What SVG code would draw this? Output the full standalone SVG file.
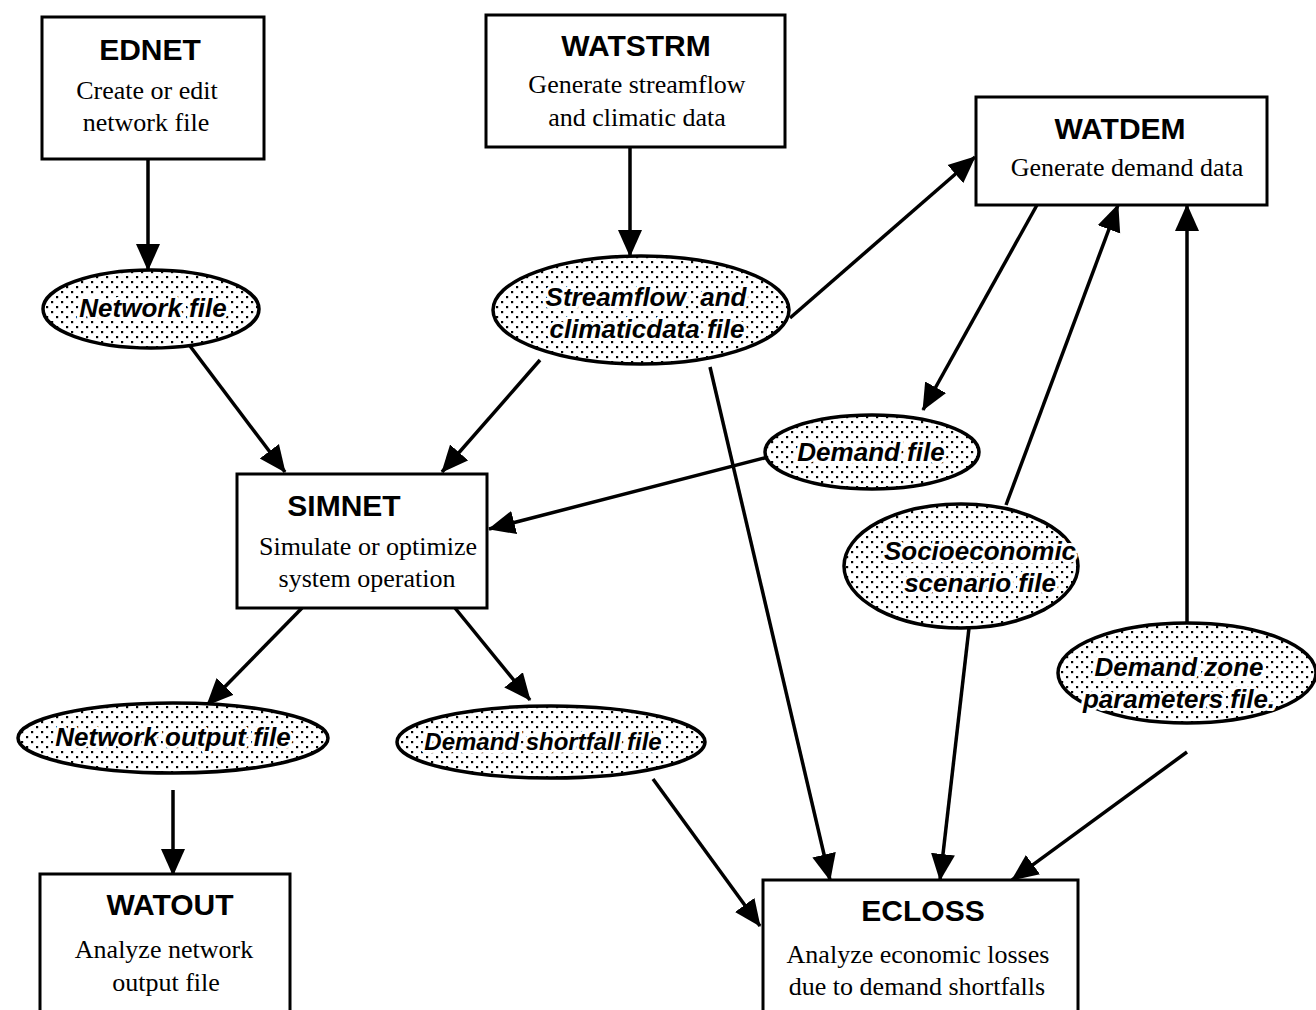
<svg xmlns="http://www.w3.org/2000/svg" width="1316" height="1010" viewBox="0 0 1316 1010">
<style>
.box{fill:#fff;stroke:#000;stroke-width:3}
.ell{fill:url(#dots);stroke:#000;stroke-width:3.5}
.ttl{font-family:"Liberation Sans",Arial,sans-serif;font-weight:bold;font-size:30px;text-anchor:middle;fill:#000}
.txt{font-family:"Liberation Serif","Times New Roman",serif;font-size:26px;text-anchor:middle;fill:#000}
.lbl{font-family:"Liberation Sans",Arial,sans-serif;font-weight:bold;font-style:italic;font-size:26px;text-anchor:middle;fill:#000;stroke:#fff;stroke-width:6;stroke-linejoin:round;paint-order:stroke fill}
.con{stroke:#000;stroke-width:3.5;fill:none;marker-end:url(#ah)}
</style>
<defs>
<pattern id="dots" width="10" height="10" patternUnits="userSpaceOnUse">
<rect width="10" height="10" fill="#fff"/>
<rect x="1" y="1" width="2.2" height="2.2" fill="#000"/>
<rect x="6" y="6" width="2.2" height="2.2" fill="#000"/>
</pattern>
<marker id="ah" markerUnits="userSpaceOnUse" markerWidth="28" markerHeight="26" refX="26" refY="13" orient="auto">
<path d="M0,1 L27,13 L0,25 Z" fill="#000"/>
</marker>
</defs>
<rect width="1316" height="1010" fill="#fff"/>

<g id="connectors">
<line class="con" x1="148" y1="159" x2="148" y2="270"/>
<line class="con" x1="630" y1="147" x2="630" y2="256"/>
<line class="con" x1="190" y1="346" x2="285" y2="472"/>
<line class="con" x1="540" y1="360" x2="442" y2="472"/>
<line class="con" x1="790" y1="318" x2="975" y2="157"/>
<line class="con" x1="710" y1="367" x2="830" y2="880"/>
<line class="con" x1="1037" y1="205" x2="923" y2="410"/>
<line class="con" x1="772" y1="456" x2="489" y2="529"/>
<line class="con" x1="1006" y1="505" x2="1118" y2="205"/>
<line class="con" x1="1187" y1="622" x2="1187" y2="205"/>
<line class="con" x1="969" y1="628" x2="940" y2="880"/>
<line class="con" x1="1187" y1="752" x2="1012" y2="880"/>
<line class="con" x1="302" y1="608" x2="207" y2="705"/>
<line class="con" x1="455" y1="608" x2="530" y2="700"/>
<line class="con" x1="173" y1="790" x2="173" y2="875"/>
<line class="con" x1="653" y1="779" x2="760" y2="926"/>
</g>

<g id="EDNET">
<rect class="box" x="42" y="17" width="222" height="142"/>
<text class="ttl" x="150" y="60">EDNET</text>
<text class="txt" x="147" y="99">Create or edit</text>
<text class="txt" x="146" y="131">network file</text>
</g>

<g id="WATSTRM">
<rect class="box" x="486" y="15" width="299" height="132"/>
<text class="ttl" x="636" y="56">WATSTRM</text>
<text class="txt" x="637" y="93">Generate streamflow</text>
<text class="txt" x="637" y="126">and climatic data</text>
</g>

<g id="WATDEM">
<rect class="box" x="976" y="97" width="291" height="108"/>
<text class="ttl" x="1120" y="139">WATDEM</text>
<text class="txt" x="1127" y="176">Generate demand data</text>
</g>

<g id="SIMNET">
<rect class="box" x="237" y="474" width="250" height="134"/>
<text class="ttl" x="344" y="516">SIMNET</text>
<text class="txt" x="368" y="555">Simulate or optimize</text>
<text class="txt" x="367" y="587">system operation</text>
</g>

<g id="WATOUT">
<rect class="box" x="40" y="874" width="250" height="140"/>
<text class="ttl" x="170" y="915">WATOUT</text>
<text class="txt" x="164" y="958">Analyze network</text>
<text class="txt" x="166" y="991">output file</text>
</g>

<g id="ECLOSS">
<rect class="box" x="763" y="880" width="315" height="134"/>
<text class="ttl" x="923" y="921">ECLOSS</text>
<text class="txt" x="918" y="963">Analyze economic losses</text>
<text class="txt" x="917" y="995">due to demand shortfalls</text>
</g>

<g id="network_file">
<ellipse class="ell" cx="151" cy="309" rx="108" ry="39"/>
<text class="lbl" x="153" y="317">Network file</text>
</g>

<g id="streamflow_file">
<ellipse class="ell" cx="641" cy="310" rx="148" ry="54"/>
<text class="lbl" x="646" y="306">Streamflow&#160; and</text>
<text class="lbl" x="647" y="338">climaticdata file</text>
</g>

<g id="demand_file">
<ellipse class="ell" cx="872" cy="452" rx="107" ry="37"/>
<text class="lbl" x="871" y="461">Demand file</text>
</g>

<g id="socioeconomic_file">
<ellipse class="ell" cx="961" cy="566" rx="117" ry="62"/>
<text class="lbl" x="980" y="560">Socioeconomic</text>
<text class="lbl" x="980" y="592">scenario file</text>
</g>

<g id="demand_zone_file">
<ellipse class="ell" cx="1187" cy="673" rx="129" ry="50"/>
<text class="lbl" x="1179" y="676">Demand zone</text>
<text class="lbl" x="1179" y="708">parameters file.</text>
</g>

<g id="network_output_file">
<ellipse class="ell" cx="173" cy="738" rx="155" ry="35"/>
<text class="lbl" x="173" y="746">Network output file</text>
</g>

<g id="demand_shortfall_file">
<ellipse class="ell" cx="551" cy="742" rx="154" ry="36"/>
<text class="lbl" x="543" y="750" style="font-size:24px">Demand shortfall file</text>
</g>
</svg>
